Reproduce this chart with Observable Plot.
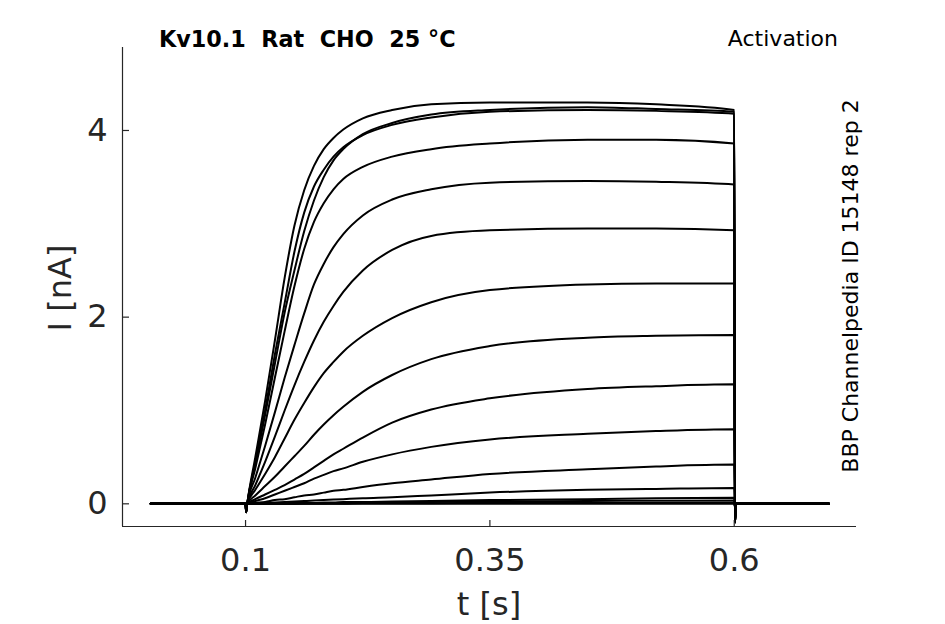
<!DOCTYPE html>
<html>
<head>
<meta charset="utf-8">
<script src="https://cdn.jsdelivr.net/npm/d3@7"></script>
<script src="https://cdn.jsdelivr.net/npm/@observablehq/plot@0.6"></script>
<style>
  html, body { margin: 0; padding: 0; background: #fff; }
  #wrap { position: relative; width: 945px; height: 624px; overflow: hidden; }
  #wrap > svg { position: absolute; left: 0; top: 0; }
  #overlay { pointer-events: none; font-family: "DejaVu Sans", sans-serif; }
</style>
</head>
<body>
<div id="wrap"></div>
<script>
// ---- data ----
const times = [0.003, 0.1, 0.1006, 0.1017, 0.11, 0.12, 0.13, 0.14, 0.15, 0.16, 0.17, 0.18, 0.19, 0.2, 0.22, 0.25, 0.29, 0.35, 0.45, 0.52, 0.6, 0.6008, 0.602, 0.697];

const traceA = [0, 0, -0.09, 0, 0.5, 1.1, 1.75, 2.42, 2.98, 3.36, 3.62, 3.8, 3.92, 4.01, 4.13, 4.22, 4.28, 4.3, 4.3, 4.28, 4.22, -0.2, 0.01, 0];
const traceB = [0, 0, -0.09, 0, 0.45, 1.0, 1.6, 2.15, 2.7, 3.12, 3.4, 3.58, 3.72, 3.82, 3.95, 4.06, 4.14, 4.2, 4.22, 4.21, 4.18, -0.2, 0.01, 0];
const traceX = [0, 0, -0.09, 0, 0.42, 0.95, 1.5, 2.05, 2.5, 2.92, 3.25, 3.5, 3.68, 3.8, 3.96, 4.08, 4.17, 4.22, 4.25, 4.23, 4.2, -0.2, 0.01, 0];
const traceC = [0, 0, -0.09, 0, 0.38, 0.85, 1.35, 1.85, 2.33, 2.73, 3.02, 3.22, 3.37, 3.48, 3.61, 3.72, 3.8, 3.86, 3.9, 3.9, 3.86, -0.2, 0.01, 0];
const traceD = [0, 0, -0.09, 0, 0.28, 0.62, 0.98, 1.35, 1.7, 2.04, 2.35, 2.57, 2.75, 2.89, 3.09, 3.26, 3.37, 3.44, 3.46, 3.45, 3.42, -0.2, 0.01, 0];
const traceE = [0, 0, -0.09, 0, 0.2, 0.45, 0.72, 1.0, 1.27, 1.52, 1.75, 1.95, 2.12, 2.27, 2.5, 2.72, 2.87, 2.93, 2.95, 2.95, 2.93, -0.2, 0.01, 0];
const traceF = [0, 0, -0.08, 0, 0.15, 0.32, 0.5, 0.7, 0.9, 1.08, 1.25, 1.4, 1.52, 1.63, 1.8, 1.99, 2.16, 2.29, 2.35, 2.36, 2.36, -0.18, 0.01, 0];
const traceG = [0, 0, -0.08, 0, 0.09, 0.19, 0.29, 0.4, 0.51, 0.62, 0.74, 0.85, 0.95, 1.04, 1.2, 1.38, 1.55, 1.69, 1.78, 1.8, 1.81, -0.15, 0.01, 0];
const traceH = [0, 0, -0.07, 0, 0.05, 0.1, 0.15, 0.2, 0.26, 0.32, 0.39, 0.46, 0.53, 0.59, 0.71, 0.87, 1.01, 1.13, 1.23, 1.26, 1.28, -0.12, 0.01, 0];
const traceI = [0, 0, -0.06, 0, 0.03, 0.06, 0.1, 0.14, 0.18, 0.22, 0.27, 0.31, 0.35, 0.38, 0.45, 0.53, 0.61, 0.69, 0.75, 0.78, 0.8, -0.1, 0.005, 0];
const traceJ = [0, 0, -0.05, 0, 0.01, 0.02, 0.04, 0.05, 0.07, 0.09, 0.1, 0.12, 0.14, 0.15, 0.18, 0.22, 0.26, 0.32, 0.37, 0.4, 0.42, -0.08, 0, 0];
const traceK = [0, 0, -0.05, 0, 0.005, 0.01, 0.015, 0.02, 0.025, 0.03, 0.035, 0.04, 0.045, 0.05, 0.06, 0.07, 0.09, 0.12, 0.15, 0.16, 0.17, -0.06, 0, 0];
const traceL = [0, 0, -0.04, 0, 0, 0, 0.005, 0.005, 0.01, 0.01, 0.01, 0.015, 0.015, 0.02, 0.02, 0.025, 0.03, 0.04, 0.05, 0.06, 0.065, -0.05, 0, 0];
const traceM = [0, 0, -0.04, 0, 0, 0, 0, 0, 0, 0.005, 0.005, 0.005, 0.01, 0.01, 0.01, 0.015, 0.02, 0.025, 0.03, 0.033, 0.035, -0.04, 0, 0];
const traceN = [0, 0, -0.03, 0, 0, 0, 0, 0, 0, 0, 0, 0, 0, 0, 0.005, 0.005, 0.005, 0.01, 0.01, 0.01, 0.01, -0.03, 0, 0];
const traceO = [0, 0, -0.03, 0, 0, 0, 0, 0, 0, 0, 0, 0, 0, 0, 0, 0, 0, 0, 0, 0, 0, -0.02, 0, 0];

const xTicks = [0.1, 0.35, 0.6];
const xTickLabels = ["0.1", "0.35", "0.6"];
const yTicks = [0, 2, 4];
const yTickLabels = ["0", "2", "4"];
const xDomain = [-0.0259, 0.7251];
const yDomain = [-0.243, 4.889];

// ---- build table ----
const traces = {traceA, traceB, traceX, traceC, traceD, traceE, traceF, traceG, traceH, traceI, traceJ, traceK, traceL, traceM, traceN, traceO};
const rows = [];
for (const [name, vals] of Object.entries(traces)) {
  vals.forEach((v, k) => rows.push({trace: name, t: times[k], i: v}));
}

const W = 945, H = 624, mL = 122, mR = 89, mT = 47, mB = 98;
const frameW = W - mL - mR, frameH = H - mT - mB;
const axisColor = "#262626";
const chart = Plot.plot({
  width: W,
  height: H,
  marginLeft: mL,
  marginRight: mR,
  marginTop: mT,
  marginBottom: mB,
  style: {fontFamily: "DejaVu Sans", background: "white"},
  x: {domain: xDomain},
  y: {domain: yDomain},
  marks: [
    Plot.line(rows, {x: "t", y: "i", z: "trace", stroke: "black", strokeWidth: 2, curve: "monotone-x", clip: true}),
    Plot.ruleX([xDomain[0]], {stroke: axisColor, strokeWidth: 1.2}),
    Plot.ruleY([yDomain[0]], {stroke: axisColor, strokeWidth: 1.2}),
    // inward tick marks
    Plot.tickX(xTicks, {x: d => d, stroke: axisColor, strokeWidth: 1.2, insetTop: frameH - 6}),
    Plot.tickY(yTicks, {y: d => d, stroke: axisColor, strokeWidth: 1.2, insetRight: frameW - 7}),
    // tick labels
    Plot.axisX(xTicks, {tickSize: 0, tickPadding: 22, fontSize: 32, color: axisColor, label: null,
      tickFormat: (d, i) => xTickLabels[i]}),
    Plot.axisY(yTicks, {tickSize: 0, tickPadding: 15, fontSize: 32, color: axisColor, label: null,
      tickFormat: (d, i) => yTickLabels[i]})
  ]
});

const wrap = document.getElementById("wrap");
wrap.appendChild(chart);

const ns = "http://www.w3.org/2000/svg";
const ov = document.createElementNS(ns, "svg");
ov.setAttribute("id", "overlay");
ov.setAttribute("width", W);
ov.setAttribute("height", H);
function addText(str, attrs, style) {
  const t = document.createElementNS(ns, "text");
  for (const k in attrs) t.setAttribute(k, attrs[k]);
  Object.assign(t.style, style || {});
  t.textContent = str;
  ov.appendChild(t);
}
addText("Kv10.1  Rat  CHO  25 °C", {x: 159, y: 47}, {fontWeight: "bold", fontSize: "22.3px", whiteSpace: "pre", fill: "#000"});
addText("Activation", {x: 838, y: 46, "text-anchor": "end"}, {fontSize: "22px", fill: "#000"});
addText("BBP Channelpedia ID 15148 rep 2", {transform: "translate(858,286) rotate(-90)", "text-anchor": "middle"}, {fontSize: "22px", fill: "#000"});
addText("t [s]", {x: 489, y: 615, "text-anchor": "middle"}, {fontSize: "32px", fill: axisColor});
addText("I [nA]", {transform: "translate(71,288) rotate(-90)", "text-anchor": "middle"}, {fontSize: "32px", fill: axisColor});
wrap.appendChild(ov);
</script>
</body>
</html>
